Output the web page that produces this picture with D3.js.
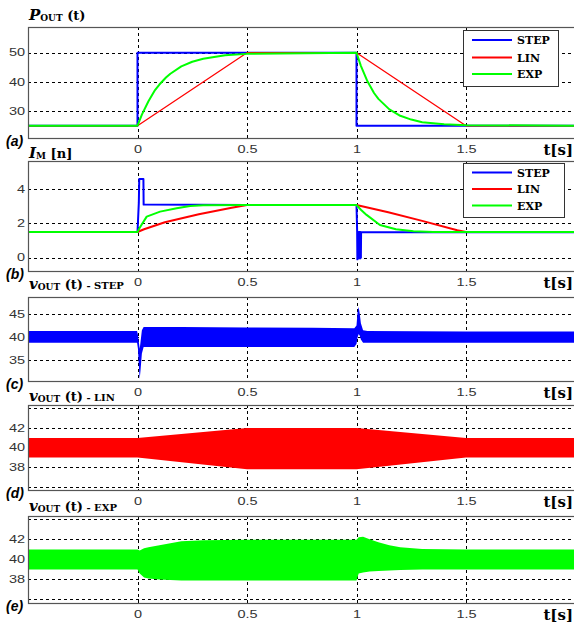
<!DOCTYPE html>
<html>
<head>
<meta charset="utf-8">
<script src="https://cdn.jsdelivr.net/npm/d3@7"></script>
<style>
  body { margin: 0; background: #fff; }
  .tick text { font-family: "Liberation Sans", Arial, sans-serif; font-size: 10px; fill: #333; }
  .grid line { stroke: #000; stroke-width: 1; stroke-dasharray: 3,3; }
  .ttl { font-family: "DejaVu Serif", serif; font-weight: bold; fill: #000; }
  .lbl { font-family: "Liberation Sans", Arial, sans-serif; font-weight: bold; font-style: italic; font-size: 14px; }
  .leg text { font-family: "DejaVu Serif", serif; font-weight: bold; font-size: 11px; }
</style>
</head>
<body>
<svg id="fig" width="574" height="625"></svg>
<script>

// time axis
var timeTicks = [0, 0.5, 1, 1.5];
var seriesNames = ["STEP", "LIN", "EXP"];

// (a) P_OUT(t)
var tPStep = [-0.5, 0, 0, 1, 1, 2];
var pStep  = [25, 25, 50, 50, 25, 25];
var tPLin  = [-0.5, 0, 0.5, 1, 1.5, 2];
var pLin   = [25, 25, 50, 50, 25, 25];
var tPExp  = [-0.5, 0, 0.02, 0.05, 0.08, 0.1, 0.13, 0.15, 0.2, 0.25, 0.3, 0.4, 0.5,
              1, 1.02, 1.05, 1.08, 1.1, 1.15, 1.2, 1.25, 1.3, 1.4, 1.5, 2];
var pExp   = [25, 25, 28.8, 33.4, 37.2, 39.1, 41.5, 42.8, 45.3, 46.9, 47.9, 49.1, 49.6,
              50, 45.5, 40.2, 36.2, 34.2, 30.6, 28.4, 27.1, 26.2, 25.5, 25.2, 25];

// (b) I_M[n]
var tIStep = [-0.5, 0, 0.006, 0.008, 0.027, 0.028, 0.5, 1.0, 1.003, 1.004, 1.006, 1.008,
              1.010, 1.012, 1.014, 1.016, 1.018, 1.020, 1.021, 2];
var iStep  = [1.5, 1.5, 3.2, 4.6, 4.6, 3.1, 3.08, 3.08, 1.5, -0.1, 1.5, -0.05,
              1.5, 0.0, 1.5, -0.05, 1.5, 0.0, 1.48, 1.48];
var tILin  = [-0.5, 0, 0.03, 0.125, 0.28, 0.43, 0.5, 1.0, 1.145, 1.3, 1.46, 1.5, 2];
var iLin   = [1.5, 1.5, 1.66, 2.07, 2.54, 2.92, 3.08, 3.08, 2.65, 2.15, 1.6, 1.5, 1.5];
var tIExp  = [-0.5, 0, 0.01, 0.042, 0.103, 0.179, 0.24, 0.3, 0.5, 1.0, 1.02, 1.046,
              1.107, 1.18, 1.26, 1.35, 2];
var iExp   = [1.5, 1.5, 1.75, 2.4, 2.69, 2.89, 3.02, 3.06, 3.08, 3.08, 2.8, 2.5,
              1.91, 1.66, 1.55, 1.5, 1.5];

// (c) v_OUT STEP - ripple band (upper / lower envelope)
var tVs  = [-0.5, -0.002, 0.002, 0.006, 0.01, 0.014, 0.02, 0.028, 0.05, 0.2, 0.5, 0.8, 0.99,
            1.0, 1.005, 1.01, 1.015, 1.02, 1.03, 1.05, 1.5, 2];
var vsHi = [41.3, 41.3, 40.5, 39, 37.5, 39, 41.5, 42.2, 42.2, 42.2, 42.1, 42.0, 41.9,
            42.5, 45.5, 46.5, 45, 43, 41.5, 41.3, 41.2, 41.2];
var vsLo = [38.8, 38.8, 37.5, 34, 31, 33, 36.5, 37.9, 37.9, 37.9, 37.9, 37.9, 37.9,
            38.5, 40, 40.7, 40.3, 39.5, 38.8, 38.8, 38.8, 38.8];

// (d) v_OUT LIN
var tVl  = [-0.5, 0, 0.5, 1.0, 1.5, 2];
var vlHi = [41.0, 41.0, 42.0, 42.0, 41.0, 41.0];
var vlLo = [39.0, 39.0, 37.8, 37.8, 39.0, 39.0];

// (e) v_OUT EXP
var tVe  = [-0.5, 0, 0.01, 0.03, 0.05, 0.1, 0.15, 0.2, 0.3, 0.5, 1.0, 1.01, 1.03, 1.06,
            1.1, 1.15, 1.2, 1.3, 1.5, 2];
var veHi = [41.0, 41.0, 40.9, 41.1, 41.2, 41.4, 41.6, 41.8, 41.9, 41.95, 41.95, 42.2, 42.25, 42.0,
            41.7, 41.4, 41.2, 41.05, 41.0, 41.0];
var veLo = [39.0, 39.0, 38.6, 38.2, 38.1, 38.0, 37.95, 37.9, 37.9, 37.9, 37.9, 38.6, 38.7, 38.8,
            38.85, 38.9, 38.95, 39.0, 39.0, 39.0];

var colors = { STEP: "#0000ff", LIN: "#ff0000", EXP: "#00ff00" };

var svg = d3.select("#fig");
var x = d3.scaleLinear().domain([-0.5, 2]).range([28, 575.5]);
var SX = 1.45; // tick text is drawn wide in the original

function zip(ts, vs) { return ts.map(function (t, i) { return [t, vs[i]]; }); }

function makePanel(p) {
    var y = d3.scaleLinear().domain(p.dom).range([p.bottom, p.top]);
    var g = svg.append("g");

    // grid
    var grid = g.append("g").attr("class", "grid");
    grid.selectAll(".h").data(p.grid).enter().append("line")
        .attr("x1", x.range()[0]).attr("x2", x.range()[1])
        .attr("y1", function (d) { return Math.round(y(d)) + 0.5; })
        .attr("y2", function (d) { return Math.round(y(d)) + 0.5; });
    grid.selectAll(".v").data(timeTicks).enter().append("line")
        .attr("y1", p.top).attr("y2", p.bottom)
        .attr("x1", function (d) { return Math.round(x(d)) + 0.5; })
        .attr("x2", function (d) { return Math.round(x(d)) + 0.5; });

    // y axis labels
    var ya = g.append("g").attr("transform", "translate(" + x.range()[0] + ",0)")
        .call(d3.axisLeft(y).tickValues(p.ticks).tickSize(0).tickFormat(d3.format("d")));
    ya.select(".domain").remove();
    ya.selectAll("text").attr("x", -2).attr("transform", "scale(" + SX + ",1)");

    // x axis labels
    var xa = g.append("g").attr("transform", "translate(0," + p.bottom + ")")
        .call(d3.axisBottom(x).tickValues(timeTicks).tickSize(0).tickFormat(d3.format("")));
    xa.select(".domain").remove();
    xa.selectAll("text").attr("y", 8).attr("transform", "scale(" + SX + ",1)");

    return { g: g, y: y };
}

function drawLine(pan, ts, vs, color, w) {
    var line = d3.line().x(function (d) { return x(d[0]); }).y(function (d) { return pan.y(d[1]); });
    pan.g.append("path").datum(zip(ts, vs))
        .attr("d", line).attr("fill", "none")
        .attr("stroke", color).attr("stroke-width", w)
        .attr("stroke-linejoin", "round");
}

function drawBand(pan, ts, hi, lo, color) {
    var data = ts.map(function (t, i) { return { t: t, hi: hi[i], lo: lo[i] }; });
    var area = d3.area()
        .x(function (d) { return x(d.t); })
        .y0(function (d) { return pan.y(d.lo); })
        .y1(function (d) { return pan.y(d.hi); });
    pan.g.append("path").datum(data).attr("d", area).attr("fill", color);
}

function drawFrame(p) {
    svg.append("rect")
        .attr("x", 28.5).attr("y", p.top + 0.5)
        .attr("width", 560).attr("height", p.bottom - p.top)
        .attr("fill", "none").attr("stroke", "#555").attr("stroke-width", 1.2);
}

function drawLegend(box) {
    var lg = svg.append("g").attr("class", "leg");
    lg.append("rect").attr("x", box.x + 0.5).attr("y", box.y + 0.5)
        .attr("width", box.w).attr("height", box.h)
        .attr("fill", "#fff").attr("stroke", "#333").attr("stroke-width", 1);
    seriesNames.forEach(function (name, i) {
        var yy = box.y + box.rows[i];
        lg.append("line").attr("x1", box.x + 9).attr("x2", box.x + 49)
            .attr("y1", yy).attr("y2", yy)
            .attr("stroke", colors[name]).attr("stroke-width", 2);
        lg.append("text").attr("x", box.x + 54).attr("y", yy + 4).text(name);
    });
}

function title(yb, main, sub, rest, tail) {
    var t = svg.append("text").attr("class", "ttl").attr("x", 29).attr("y", yb);
    t.append("tspan").attr("font-size", 15).attr("font-style", "italic").text(main);
    t.append("tspan").attr("font-size", 9).attr("dy", 1).text(sub);
    t.append("tspan").attr("font-size", 13).attr("dy", -1).text(rest);
    if (tail) t.append("tspan").attr("font-size", 10).text(tail);
}

var layout = [
    { top: 27,  bottom: 138, dom: [20.8, 58.8],   ticks: [30, 40, 50], grid: [30, 40, 50], lbl: "(a)" },
    { top: 161, bottom: 271, dom: [-0.78, 5.65],  ticks: [0, 2, 4],    grid: [0, 2, 4],    lbl: "(b)" },
    { top: 297, bottom: 381, dom: [30.55, 48.65], ticks: [35, 40, 45], grid: [35, 40, 45], lbl: "(c)" },
    { top: 405, bottom: 490, dom: [35.7, 44.35],  ticks: [38, 40, 42], grid: [36, 38, 40, 42, 44], lbl: "(d)" },
    { top: 516, bottom: 603, dom: [35.65, 44.33], ticks: [38, 40, 42], grid: [36, 38, 40, 42, 44], lbl: "(e)" }
];

var pans = layout.map(makePanel);

// (a)
drawLine(pans[0], tPStep, pStep, colors.STEP, 2);
drawLine(pans[0], tPLin, pLin, colors.LIN, 1.3);
drawLine(pans[0], tPExp, pExp, colors.EXP, 2);
// (b)
drawLine(pans[1], tIStep, iStep, colors.STEP, 2);
drawLine(pans[1], tILin, iLin, colors.LIN, 2);
drawLine(pans[1], tIExp, iExp, colors.EXP, 2);
// (c)(d)(e)
drawBand(pans[2], tVs, vsHi, vsLo, colors.STEP);
drawBand(pans[3], tVl, vlHi, vlLo, colors.LIN);
drawBand(pans[4], tVe, veHi, veLo, colors.EXP);

layout.forEach(drawFrame);

drawLegend({ x: 463, y: 30,  w: 95,  h: 56, rows: [10, 27.5, 44] });
drawLegend({ x: 463, y: 163, w: 101, h: 54, rows: [9.5, 26, 42.5] });

title(20,  "P", "OUT", " (t)");
title(158, "I", "M", " [n]");
title(289, "v", "OUT", " (t)", " - STEP");
title(401, "v", "OUT", " (t)", " - LIN");
title(511, "v", "OUT", " (t)", " - EXP");

layout.forEach(function (p) {
    svg.append("text").attr("class", "lbl").attr("x", 6).attr("y", p.bottom + 8).text(p.lbl);
    svg.append("text").attr("class", "ttl").attr("font-size", 15)
        .attr("text-anchor", "end").attr("x", 573).attr("y", p.bottom + 17).text("t[s]");
});

</script>
</body>
</html>
